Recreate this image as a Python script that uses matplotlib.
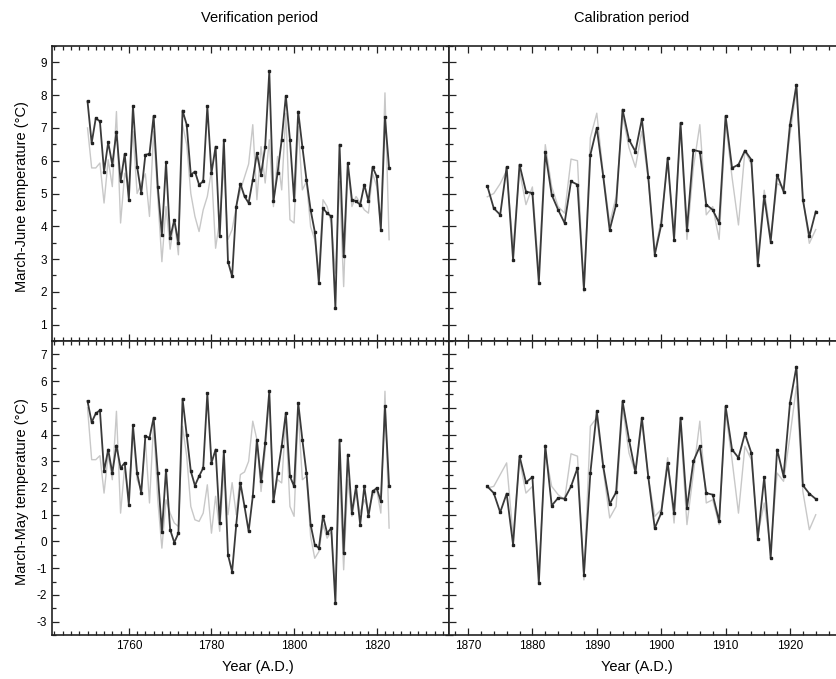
import numpy as np
import matplotlib
matplotlib.use("Agg")
import matplotlib.pyplot as plt
from matplotlib.ticker import MultipleLocator

plt.rcParams['font.family'] = ['Liberation Sans', 'DejaVu Sans']
plt.rcParams['axes.unicode_minus'] = False

# ---- data ----
years_ver = np.arange(1750, 1824)
years_cal = np.arange(1873, 1925)

# March-June, verification period
mj_ver_obs = [7.81, 6.54, 7.30, 7.20, 5.67, 6.56, 5.88, 6.89, 5.37, 6.21,
              4.81, 7.66, 5.82, 5.01, 6.18, 6.21, 7.37, 5.21, 3.74, 5.95,
              3.64, 4.20, 3.48, 7.53, 7.10, 5.57, 5.67, 5.27, 5.37, 7.66,
              5.62, 6.43, 3.69, 6.64, 2.92, 2.47, 4.60, 5.30, 4.91, 4.71,
              5.42, 6.23, 5.57, 6.43, 8.73, 4.76, 5.62, 6.64, 7.98, 6.64,
              4.81, 7.50, 6.43, 5.42, 4.50, 3.84, 2.26, 4.55, 4.40, 4.30,
              1.50, 6.49, 3.08, 5.93, 4.81, 4.76, 4.66, 5.27, 4.76, 5.81,
              5.52, 3.89, 7.33, 5.78]
mj_ver_rec = [7.0, 5.78, 5.78, 5.93, 4.71, 6.03, 5.21, 7.50, 4.10, 5.62,
              5.21, 6.9, 5.0, 5.3, 5.6, 4.3, 6.9, 4.9, 2.92, 4.6,
              3.3, 4.2, 3.13, 7.1, 6.5, 5.0, 4.3, 3.84, 4.5, 4.91,
              5.7, 3.33, 4.2, 5.8, 3.6, 3.9, 4.6, 5.1, 5.5, 5.9,
              7.10, 4.81, 6.43, 5.32, 6.64, 4.60, 6.13, 5.11, 7.45, 4.20,
              4.10, 7.05, 5.11, 5.37, 3.99, 3.59, 2.57, 4.81, 4.60, 4.10,
              2.57, 5.37, 2.16, 5.82, 4.60, 4.91, 4.71, 4.50, 4.40, 5.62,
              5.21, 3.99, 8.07, 3.59]

# March-June, calibration period
mj_cal_obs = [5.23, 4.55, 4.35, 5.81, 2.98, 5.88, 5.06, 5.01, 2.28, 6.26,
              4.96, 4.50, 4.10, 5.37, 5.27, 2.08, 6.18, 7.00, 5.52, 3.89,
              4.66, 7.56, 6.64, 6.28, 7.27, 5.5, 3.13, 4.04, 6.08, 3.59,
              7.15, 3.89, 6.33, 6.28, 4.66, 4.50, 4.10, 7.37, 5.78, 5.88,
              6.31, 6.03, 2.82, 4.91, 3.53, 5.57, 5.06, 7.10, 8.32, 4.81,
              3.69, 4.45]
mj_cal_rec = [4.9, 5.0, 5.3, 5.7, 3.34, 5.7, 4.66, 5.2, 2.57, 6.49,
              5.2, 4.6, 4.4, 6.05, 6.0, 2.0, 6.7, 7.45, 5.6, 4.1,
              4.9, 7.4, 6.4, 5.8, 6.9, 5.4, 3.2, 4.2, 5.9, 3.8,
              7.0, 3.6, 5.8, 7.10, 4.35, 4.6, 3.6, 7.2, 5.5, 4.04,
              6.3, 5.9, 3.0, 5.1, 3.7, 5.3, 5.2, 6.8, 8.2, 4.9,
              3.48, 3.9]

# March-May, verification period
mm_ver_obs = [5.25, 4.46, 4.79, 4.91, 2.63, 3.44, 2.56, 3.59, 2.75, 2.94,
              1.38, 4.34, 2.56, 1.81, 3.94, 3.88, 4.63, 2.56, 0.34, 2.69,
              0.44, -0.04, 0.31, 5.34, 4.00, 2.63, 2.09, 2.44, 2.75, 5.54,
              2.94, 3.44, 0.69, 3.38, -0.50, -1.13, 0.63, 2.19, 1.31, 0.38,
              1.69, 3.81, 2.25, 3.69, 5.62, 1.50, 2.56, 3.56, 4.81, 2.44,
              2.06, 5.19, 3.81, 2.56, 0.63, -0.12, -0.25, 0.96, 0.31, 0.50,
              -2.31, 3.81, -0.44, 3.25, 1.06, 2.06, 0.63, 2.06, 0.94, 1.87,
              2.00, 1.50, 5.06, 2.06]
mm_ver_rec = [5.0, 3.06, 3.06, 3.21, 1.81, 3.25, 2.31, 4.87, 1.06, 2.81,
              1.69, 4.19, 2.31, 1.94, 3.81, 1.44, 4.44, 1.56, -0.25, 1.56,
              1.06, 0.69, 0.56, 4.31, 3.19, 1.31, 0.81, 0.75, 1.06, 2.12,
              0.31, 1.69, 0.38, 2.6, 1.0, 2.2, 1.0, 2.5, 2.6, 3.0,
              4.50, 3.81, 1.87, 3.4, 5.4, 1.56, 2.31, 2.19, 4.56, 1.31,
              0.94, 4.87, 2.31, 2.44, 0.19, -0.63, -0.38, 0.63, 0.12, 0.38,
              -1.88, 2.56, -1.06, 2.31, 0.94, 1.81, 1.06, 1.56, 1.19, 1.69,
              1.94, 1.06, 5.62, 0.50]

# March-May, calibration period
mm_cal_obs = [2.06, 1.81, 1.09, 1.79, -0.12, 3.19, 2.21, 2.41, -1.56, 3.59,
              1.34, 1.63, 1.60, 2.06, 2.75, -1.25, 2.56, 4.87, 2.81, 1.40,
              1.84, 5.25, 3.81, 2.59, 4.63, 2.4, 0.50, 1.06, 2.94, 1.06,
              4.63, 1.25, 3.00, 3.56, 1.81, 1.75, 0.75, 5.06, 3.44, 3.13,
              4.04, 3.31, 0.10, 2.41, -0.62, 3.44, 2.44, 5.19, 6.54, 2.10,
              1.79, 1.59]
mm_cal_rec = [2.0, 2.06, 2.5, 2.94, 0.19, 3.06, 1.81, 2.06, -1.19, 3.31,
              2.06, 1.75, 1.56, 3.28, 3.19, -1.44, 4.31, 4.63, 2.69, 0.88,
              1.31, 5.06, 3.31, 2.56, 4.5, 2.4, 0.94, 1.19, 3.13, 0.69,
              4.31, 0.63, 2.56, 4.50, 1.44, 1.56, 0.63, 4.87, 3.06, 1.06,
              3.56, 3.06, 0.25, 1.44, -0.25, 2.56, 2.25, 3.94, 5.81, 1.87,
              0.44, 1.00]

# ---- figure ----
W, H = 837, 679
fig = plt.figure(figsize=(W / 100, H / 100), dpi=100)

left_x0, mid_x, right_x1 = 52 / W, 449 / W, 1.0
top_y1, mid_y, bot_y0 = 1 - 46 / H, 1 - 341 / H, 1 - 635 / H

ax_tl = fig.add_axes([left_x0, mid_y, mid_x - left_x0, top_y1 - mid_y])
ax_tr = fig.add_axes([mid_x, mid_y, right_x1 - mid_x, top_y1 - mid_y])
ax_bl = fig.add_axes([left_x0, bot_y0, mid_x - left_x0, mid_y - bot_y0])
ax_br = fig.add_axes([mid_x, bot_y0, right_x1 - mid_x, mid_y - bot_y0])

dark = '#3a3a3a'
light = '#c8c8c8'

panels = [
    (ax_tl, years_ver, mj_ver_obs, mj_ver_rec),
    (ax_tr, years_cal, mj_cal_obs, mj_cal_rec),
    (ax_bl, years_ver, mm_ver_obs, mm_ver_rec),
    (ax_br, years_cal, mm_cal_obs, mm_cal_rec),
]
for ax, yrs, obs, rec in panels:
    ax.plot(yrs, rec, color=light, lw=1.0, zorder=2)
    ax.plot(yrs, obs, color=dark, lw=1.3, marker='s', ms=1.6,
            mec='#222222', mfc='#222222', zorder=3)
    ax.tick_params(which='both', direction='in', top=True, right=True,
                   labelsize=8.5, width=0.9, color='#222222')
    ax.tick_params(which='major', length=5)
    ax.tick_params(which='minor', length=3)
    for s in ax.spines.values():
        s.set_linewidth(1.2)
        s.set_color('#222222')

for ax in (ax_tl, ax_bl):
    ax.set_xlim(1741.4, 1837.5)
    ax.xaxis.set_major_locator(MultipleLocator(20))
    ax.xaxis.set_minor_locator(MultipleLocator(2))
for ax in (ax_tr, ax_br):
    ax.set_xlim(1867.05, 1927.3)
    ax.xaxis.set_major_locator(MultipleLocator(10))
    ax.xaxis.set_minor_locator(MultipleLocator(2))
    ax.spines['right'].set_visible(False)
    ax.tick_params(which='both', right=False)

for ax in (ax_tl, ax_tr):
    ax.set_ylim(0.5, 9.5)
    ax.yaxis.set_major_locator(MultipleLocator(1))
    ax.yaxis.set_minor_locator(MultipleLocator(0.5))
    ax.tick_params(labelbottom=False)
for ax in (ax_bl, ax_br):
    ax.set_ylim(-3.5, 7.5)
    ax.yaxis.set_major_locator(MultipleLocator(1))
    ax.yaxis.set_minor_locator(MultipleLocator(0.5))

for ax in (ax_tr, ax_br):
    ax.tick_params(labelleft=False)

fig.text(22 / W, 1 - 197 / H, 'March-June temperature (°C)', rotation=90,
         ha='center', va='center', fontsize=10.5)
fig.text(22 / W, 1 - 492 / H, 'March-May temperature (°C)', rotation=90,
         ha='center', va='center', fontsize=10.5)

fig.text(260 / W, 1 - 18 / H, 'Verification period', ha='center', va='center', fontsize=10.5)
fig.text(632 / W, 1 - 18 / H, 'Calibration period', ha='center', va='center', fontsize=10.5)
fig.text(258 / W, 1 - 667 / H, 'Year (A.D.)', ha='center', va='center', fontsize=10.5)
fig.text(637 / W, 1 - 667 / H, 'Year (A.D.)', ha='center', va='center', fontsize=10.5)

fig.savefig('out.png', dpi=100)
